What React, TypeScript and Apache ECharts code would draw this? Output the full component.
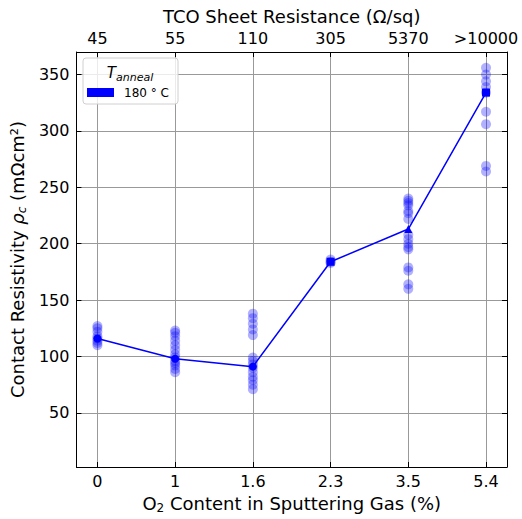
import React, { useEffect, useRef } from "react";
import * as echarts from "echarts";

const xPositions = [0, 1, 2, 3, 4, 5];
const bottomLabels = ["0", "1", "1.6", "2.3", "3.5", "5.4"];
const topLabels = ["45", "55", "110", "305", "5370", ">10000"];
const yTicks = [50, 100, 150, 200, 250, 300, 350];

const pts0 = [127, 125, 122, 118, 116, 114, 112, 110];
const pts1 = [123, 121, 118, 114, 110, 106, 102, 99, 96, 94, 92, 89, 86];
const pts16 = [138, 134, 129, 124, 119, 99, 96, 93, 90, 86, 82, 79, 75, 71];
const pts23 = [186, 184, 183];
const pts35 = [240, 238, 236, 234, 229, 227, 222, 208, 204, 200, 197, 195, 179, 176, 164, 160];
const pts54 = [356, 350, 344, 339, 334, 317, 306, 269, 264];
const meanValues = [116, 98, 91, 184, 213, 334];
const meanSymbols = ["circle", "circle", "circle", "rect", "triangle", "rect"];

const groups = [pts0, pts1, pts16, pts23, pts35, pts54];

export default function App() {
  const ref = useRef<HTMLDivElement>(null);
  useEffect(() => {
    document.body.style.margin = "0";
    const chart = echarts.init(ref.current!, undefined, { renderer: "svg" });
    const font = "DejaVu Sans";
    const scatterData: number[][] = [];
    groups.forEach((g, i) => g.forEach((v) => scatterData.push([xPositions[i], v])));
    const meanData = meanValues.map((v, i) => ({
      value: [xPositions[i], v],
      symbol: meanSymbols[i],
    }));
    const axisLine = { show: true, onZero: false, lineStyle: { color: "#000", width: 1 } };
    const tick = (vals: number[]) => ({
      show: true,
      inside: true,
      length: 5,
      customValues: vals,
      lineStyle: { color: "#000", width: 1 },
    });
    chart.setOption({
      animation: false,
      textStyle: { fontFamily: font },
      grid: { left: 76, right: 15, top: 52, bottom: 47, containLabel: false },
      xAxis: [
        {
          type: "value",
          position: "bottom",
          min: -0.27,
          max: 5.27,
          axisLine,
          axisTick: tick(xPositions),
          axisLabel: {
            customValues: xPositions,
            formatter: (v: number) => bottomLabels[Math.round(v)],
            fontSize: 16,
            color: "#000",
            fontFamily: font,
            margin: 6,
          },
          splitLine: { show: true, lineStyle: { color: "#999", width: 1 } },
          name: "{a|O}{s|2}{a| Content in Sputtering Gas (%)}",
          nameLocation: "middle",
          nameGap: 25,
          nameTextStyle: {
            fontFamily: font,
            color: "#000",
            rich: {
              a: { fontSize: 18, fontFamily: font, color: "#000", lineHeight: 22 },
              s: { fontSize: 12, fontFamily: font, color: "#000", verticalAlign: "bottom", lineHeight: 14 },
            },
          },
        },
        {
          type: "value",
          position: "top",
          min: -0.27,
          max: 5.27,
          axisLine,
          axisTick: tick(xPositions),
          axisLabel: {
            customValues: xPositions,
            formatter: (v: number) => topLabels[Math.round(v)],
            fontSize: 16,
            color: "#000",
            fontFamily: font,
            margin: 6,
          },
          splitLine: { show: false },
          name: "TCO Sheet Resistance (Ω/sq)",
          nameLocation: "middle",
          nameGap: 23,
          nameTextStyle: { fontSize: 18, color: "#000", fontFamily: font },
        },
      ],
      yAxis: [
        {
          type: "value",
          position: "left",
          min: 2,
          max: 370,
          axisLine,
          axisTick: tick(yTicks),
          axisLabel: {
            customValues: yTicks,
            fontSize: 16,
            color: "#000",
            fontFamily: font,
            margin: 7,
          },
          splitLine: { show: true, lineStyle: { color: "#999", width: 1 } },
          name: "{a|Contact Resistivity }{i|ρ}{s|c}{a| (mΩcm²)}",
          nameLocation: "middle",
          nameGap: 45,
          nameTextStyle: {
            fontFamily: font,
            color: "#000",
            rich: {
              a: { fontSize: 18, fontFamily: font, color: "#000", lineHeight: 22 },
              i: { fontSize: 18, fontFamily: font, color: "#000", fontStyle: "italic", lineHeight: 22 },
              s: { fontSize: 12, fontFamily: font, color: "#000", fontStyle: "italic", verticalAlign: "bottom", lineHeight: 14 },
            },
          },
        },
        {
          type: "value",
          position: "right",
          min: 2,
          max: 370,
          axisLine,
          axisTick: tick(yTicks),
          axisLabel: { show: false, customValues: yTicks },
          splitLine: { show: false },
        },
      ],
      series: [
        {
          type: "scatter",
          xAxisIndex: 0,
          yAxisIndex: 0,
          data: scatterData,
          symbol: "circle",
          symbolSize: 10,
          itemStyle: { color: "rgba(0,0,255,0.38)" },
          z: 2,
        },
        {
          type: "line",
          xAxisIndex: 0,
          yAxisIndex: 0,
          data: meanData,
          symbolSize: 8,
          showSymbol: true,
          lineStyle: { color: "#0000ff", width: 1.5 },
          itemStyle: { color: "#0000ff" },
          z: 3,
        },
      ],
      graphic: [
        {
          type: "group",
          children: [
            {
              type: "rect",
              shape: { x: 83, y: 58, width: 95, height: 46, r: 3 },
              style: { fill: "rgba(255,255,255,0.8)", stroke: "#d0d0d0", lineWidth: 1 },
              z: 10,
            },
            {
              type: "text",
              x: 130,
              y: 73,
              z: 11,
              style: {
                text: "{t|T}{s|anneal}",
                align: "center",
                verticalAlign: "middle",
                rich: {
                  t: { fontSize: 15, fontStyle: "italic", fontFamily: font, fill: "#000", lineHeight: 20 },
                  s: { fontSize: 11, fontStyle: "italic", fontFamily: font, fill: "#000", verticalAlign: "bottom", lineHeight: 14 },
                },
              },
            },
            {
              type: "rect",
              shape: { x: 87, y: 88, width: 27, height: 9 },
              style: { fill: "#0000ff" },
              z: 11,
            },
            {
              type: "text",
              x: 124,
              y: 92.5,
              z: 11,
              style: {
                text: "180 ° C",
                fontSize: 12,
                fontFamily: font,
                fill: "#000",
                align: "left",
                verticalAlign: "middle",
              },
            },
          ],
        },
      ],
    });
    return () => chart.dispose();
  }, []);
  return <div ref={ref} style={{ width: 522, height: 519 }} />;
}
